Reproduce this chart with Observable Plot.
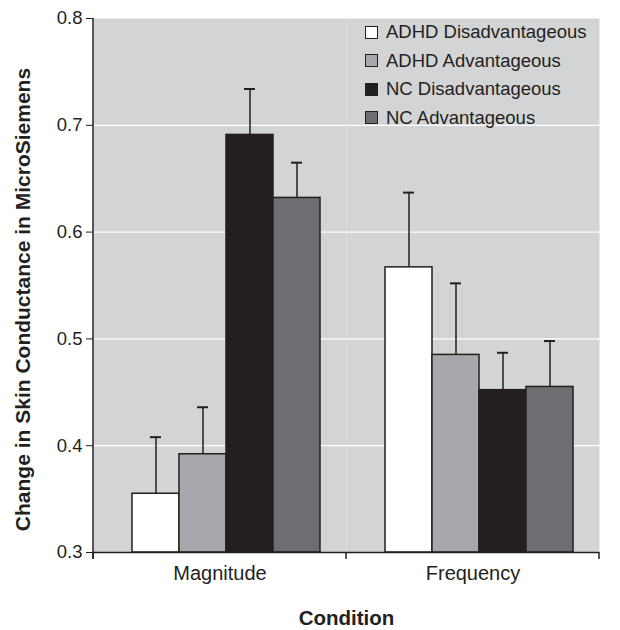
<!DOCTYPE html>
<html><head><meta charset="utf-8">
<script src="https://cdn.jsdelivr.net/npm/d3@7"></script>
<script src="https://cdn.jsdelivr.net/npm/@observablehq/plot@0.6"></script>
<style>
body{margin:0;background:#fff;font-family:"Liberation Sans",Arial,sans-serif;color:#231f20}
#wrap{position:relative;width:620px;height:630px}
#legend{position:absolute;left:365px;top:18px;font-size:18.5px;line-height:28.5px;color:#231f20}
#legend .row{display:flex;align-items:center;white-space:nowrap}
#legend .sw{width:11px;height:11px;border:1.5px solid #231f20;margin-right:8px;flex:none}
svg [aria-label="y-axis label"]{font-weight:bold;font-size:21px}
svg [aria-label="fx-axis label"]{font-weight:bold;font-size:20.5px}
</style></head><body>
<div id="wrap"><div id="chart"></div><div id="legend"></div></div>
<script>
const conditions = ["Magnitude", "Frequency"];
const series = ["ADHD Disadvantageous", "ADHD Advantageous", "NC Disadvantageous", "NC Advantageous"];
const magnitudeMeans = [0.355, 0.392, 0.691, 0.632];
const magnitudeUpper = [0.408, 0.436, 0.734, 0.665];
const frequencyMeans = [0.567, 0.485, 0.452, 0.455];
const frequencyUpper = [0.637, 0.552, 0.487, 0.498];
const colors = ["#ffffff", "#a7a8ab", "#231f20", "#6d6e71"];
const yTicks = [0.3, 0.4, 0.5, 0.6, 0.7, 0.8];
const gridValues = [0.4, 0.5, 0.6, 0.7];
const yLabel = "Change in Skin Conductance in MicroSiemens";
const xLabel = "Condition";

const yBase = yTicks[0];
const rows = [];
series.forEach((s, i) => {
  rows.push({condition: conditions[0], series: s, value: magnitudeMeans[i], upper: magnitudeUpper[i]});
  rows.push({condition: conditions[1], series: s, value: frequencyMeans[i], upper: frequencyUpper[i]});
});

const ink = "#231f20";
const chart = Plot.plot({
  width: 620, height: 630,
  marginLeft: 92, marginRight: 21, marginTop: 18, marginBottom: 78,
  style: {fontFamily: '"Liberation Sans", Arial, sans-serif', fontSize: "18px", color: ink, background: "transparent"},
  fx: {domain: conditions, paddingInner: 0, paddingOuter: 0},
  x: {domain: series, paddingInner: 0, paddingOuter: 0.64, align: 0.6, axis: null},
  y: {domain: [yTicks[0], yTicks[yTicks.length - 1]]},
  color: {domain: series, range: colors},
  marks: [
    Plot.frame({fill: "#d3d4d6", stroke: null}),
    Plot.ruleY(gridValues, {stroke: "#ffffff", strokeWidth: 1.2}),
    Plot.barY(rows, {fx: "condition", x: "series", y1: () => yBase, y2: "value", fill: "series", stroke: ink, strokeWidth: 1.5}),
    Plot.ruleX(rows, {fx: "condition", x: "series", y1: "value", y2: "upper", stroke: ink, strokeWidth: 1.5}),
    Plot.tickY(rows, {fx: "condition", x: "series", y: "upper", stroke: ink, strokeWidth: 2, insetLeft: 18, insetRight: 18}),
    Plot.ruleY([yBase], {stroke: ink, strokeWidth: 1.5}),
    Plot.axisY({ticks: yTicks, tickFormat: d3.format(".1f"), tickSize: 7, tickPadding: 4, fontSize: 18.5, label: yLabel, labelAnchor: "center", labelArrow: "none", labelOffset: 78}),
    Plot.axisFx({anchor: "bottom", tickSize: 0, tickPadding: 13, fontSize: 20, label: xLabel, labelAnchor: "center", labelArrow: "none", labelOffset: 72})
  ]
});

document.getElementById("chart").appendChild(chart);

// nudge the y label down along its rotated baseline
d3.select(chart).selectAll('[aria-label="y-axis label"] text').attr("dx", "-14");

// axis line and boundary ticks from the library's scales
const fxs = chart.scale("fx");
const ys = chart.scale("y");
const svg = d3.select(chart);
const yb = ys.apply(yTicks[0]);
const yt = ys.apply(yTicks[yTicks.length - 1]);
const leftX = fxs.apply(conditions[0]);
const bounds = conditions.map(c => fxs.apply(c)).concat([fxs.apply(conditions[conditions.length - 1]) + fxs.bandwidth]);
svg.append("line").attr("x1", leftX).attr("x2", leftX).attr("y1", yt).attr("y2", yb + 7).attr("stroke", ink).attr("stroke-width", 1.5);
bounds.forEach(b => svg.append("line").attr("x1", b).attr("x2", b).attr("y1", yb).attr("y2", yb + 7).attr("stroke", ink).attr("stroke-width", 1.5));

// legend
const legend = document.getElementById("legend");
series.forEach((s, i) => {
  const row = document.createElement("div");
  row.className = "row";
  const sw = document.createElement("span");
  sw.className = "sw";
  sw.style.background = colors[i];
  const t = document.createElement("span");
  t.textContent = s;
  row.appendChild(sw); row.appendChild(t);
  legend.appendChild(row);
});
</script>
</body></html>
